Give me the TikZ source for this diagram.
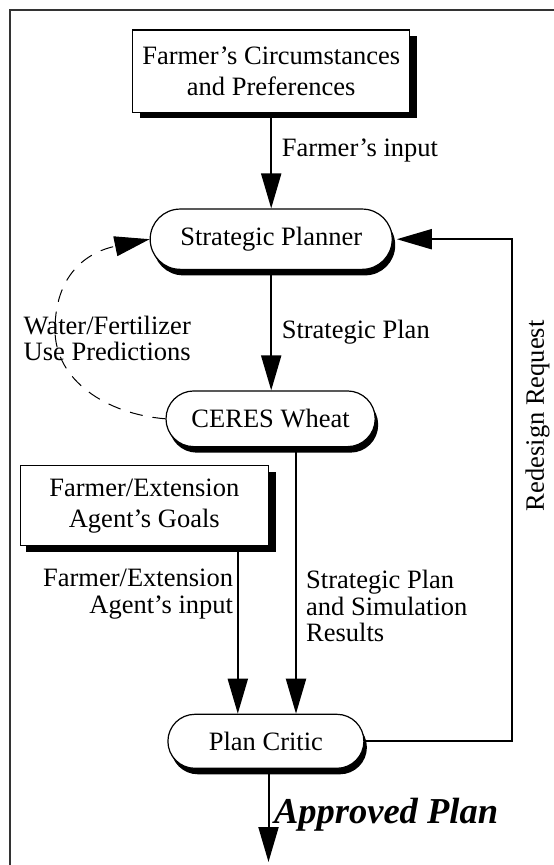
\documentclass[tikz,border=0pt]{standalone}
\usepackage{fontspec}
\setmainfont{Liberation Serif}
\usetikzlibrary{arrows.meta,shadows}
\newcommand\dgboxfont{\fontsize{26.5}{31}\selectfont}
\newcommand\dglblfont{\fontsize{26.5}{26.5}\selectfont}
\begin{document}
\begin{tikzpicture}[x=1pt,y=-1pt,
  conn/.style={line width=2pt,-{Triangle[length=35pt,width=20pt]}},
  sqbox/.style={draw,line width=1.2pt,fill=white,inner sep=0pt,align=center,font=\dgboxfont,
    drop shadow={shadow xshift=7pt,shadow yshift=-6pt,opacity=1,fill=black}},
  pill/.style={draw,line width=1.2pt,fill=white,inner sep=0pt,align=center,font=\dgboxfont,
    drop shadow={shadow xshift=3pt,shadow yshift=-6pt,opacity=1,fill=black}},
  lbl/.style={inner sep=0pt,font=\dglblfont}]
\useasboundingbox (0,0) rectangle (554,865);
\fill[white] (0,0) rectangle (554,865);
% frame
\draw[line width=2pt,black!80] (9.5,866) -- (9.5,10) -- (555,10);

% nodes
\node[sqbox,minimum width=277.3pt,minimum height=82.3pt] (b1) at (271.2,71.2) {Farmer's Circumstances\\and Preferences};
\node[pill,rounded corners=30pt,minimum width=242pt,minimum height=60.3pt] (sp) at (271.2,239.2) {Strategic Planner};
\node[pill,rounded corners=27.8pt,minimum width=209.2pt,minimum height=55.7pt] (cw) at (270.6,418.8) {CERES Wheat};
\node[sqbox,minimum width=248.4pt,minimum height=80pt,drop shadow={shadow xshift=6pt,shadow yshift=-6pt,opacity=1,fill=black}] (fe) at (144.3,505.7) {Farmer/Extension\\Agent's Goals};
\node[pill,rounded corners=27pt,minimum width=196pt,minimum height=54pt] (pc) at (265.9,741.3) {Plan Critic};

% labels
\node[lbl,anchor=base west] (l1) at (281.6,156.7) {Farmer's input};
\node[lbl,anchor=base west] (l2) at (281.6,338.3) {Strategic Plan};
\node[lbl,anchor=north west,align=left] (l3) at (23.5,315.5) {Water/Fertilizer\\Use Predictions};
\node[lbl,anchor=north east,align=right] (l4) at (233.2,569.2) {Farmer/Extension\\Agent's input};
\node[lbl,anchor=north west,align=left] (l5) at (306,570.2) {Strategic Plan\\and Simulation\\Results};
\node[lbl,rotate=90] (rr) at (537.6,415.8) {Redesign Request};
\node[inner sep=0pt,anchor=base west,font=\fontsize{36.5}{40}\selectfont\bfseries\itshape] (ap) at (273.8,823.3) {Approved Plan};

% helper coordinates
\coordinate (rt) at (512.3,0);
\coordinate (lx) at (237.8,0);
\coordinate (rx) at (296,0);
\coordinate (ae) at (268.5,862);
\coordinate (dm) at (55,330);

% connectors
\draw[conn] (b1.south) -- (sp.north);
\draw[conn] (sp.south) -- (sp.south |- cw.north);
\draw[conn] (fe.south -| lx) -- (pc.north -| lx);
\draw[conn] (cw.south -| rx) -- (pc.north -| rx);
\draw[conn] (pc.south -| ae) -- (ae);
\draw[conn,shorten >=4pt] (pc.east) -- (pc.east -| rt) -- (rt |- sp.east) -- (sp.east);
\draw[line width=1pt,dash pattern=on 13pt off 10pt,-{Triangle[length=35pt,width=20pt]}]
  (cw.west) .. controls (106,414) and (55,380) .. (dm)
  .. controls (55,270) and (92,251) .. (sp.west);
\end{tikzpicture}
\end{document}
